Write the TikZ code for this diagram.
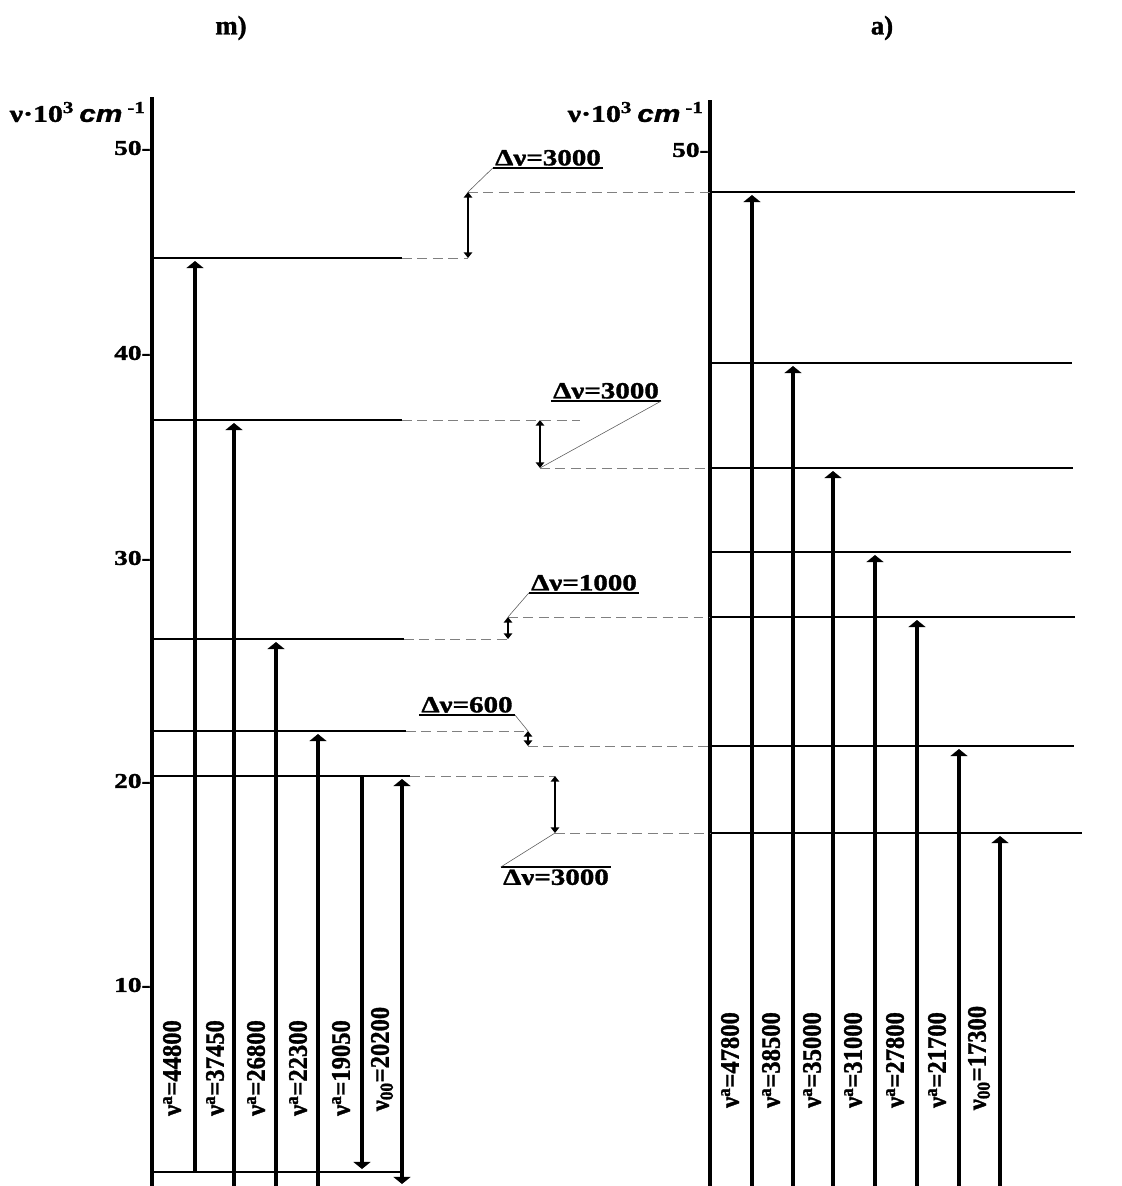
\documentclass[tikz,border=0pt]{standalone}
\usepackage{fontspec}
\setmainfont{Liberation Serif}[BoldFeatures={FakeBold=1.2}]
\setsansfont{Liberation Sans}[BoldItalicFeatures={FakeBold=1.2}]
\usetikzlibrary{arrows.meta}

\newcommand{\unitlbl}{\scalebox{1.25}[1]{ν·10\textsuperscript{3}\,{\sffamily\itshape cm}\,\textsuperscript{-1}}}
\newcommand{\dnu}[1]{\scalebox{1.25}[1]{Δν=#1}}
\newcommand{\tick}[1]{\scalebox{1.3}[1]{#1-}}
\newcommand{\vtext}[1]{\scalebox{0.92}[1]{#1}}

\tikzset{
    axis/.style={line width=3pt},
    lev/.style={line width=1.3pt},
    absn/.style={line width=2.6pt,-{Triangle[width=12pt,length=5pt]}},
    both/.style={line width=2.6pt,{Triangle[width=12pt,length=5pt]}-{Triangle[width=12pt,length=5pt]}},
    gap/.style={line width=1.5pt,{Triangle[width=6pt,length=4pt]}-{Triangle[width=6pt,length=4pt]}},
    guide/.style={gray,line width=0.7pt,dash pattern=on 7pt off 4pt},
    lead/.style={gray!70!black,line width=0.4pt},
    rule/.style={line width=1.2pt},
    vlbl/.style={font=\bfseries\fontsize{19}{19}\selectfont,rotate=90,inner sep=0pt},
    dlbl/.style={font=\bfseries\fontsize{16.5}{16.5}\selectfont,inner sep=1.5pt},
    ticklbl/.style={font=\bfseries\fontsize{15}{15}\selectfont,anchor=east,inner sep=0pt},
    unitlb/.style={font=\bfseries\fontsize{17}{17}\selectfont,anchor=east,inner sep=0pt},
    title/.style={font=\bfseries\fontsize{19}{19}\selectfont}
}

\begin{document}
\begin{tikzpicture}[x=0.025cm,y=-0.025cm]
    \useasboundingbox (0,0) rectangle (1121,1186);

    % titles
    \node[title] (tm) at (231,28) {m)};
    \node[title] (ta) at (882,28) {a)};

    % left scheme
    \draw[axis] (152,97) -- (152,1186);
    \node[unitlb] (ulm) at (146,112) {\unitlbl};
    \node[ticklbl] (t50) at (151,148) {\tick{50}};
    \node[ticklbl] (t40) at (151,353) {\tick{40}};
    \node[ticklbl] (t30) at (151,558) {\tick{30}};
    \node[ticklbl] (t20) at (151,781) {\tick{20}};
    \node[ticklbl] (t10) at (151,985) {\tick{10}};

    \draw[lev] (152,258) -- (402,258);
    \draw[lev] (152,420) -- (402,420);
    \draw[lev] (152,639) -- (404,639);
    \draw[lev] (152,731) -- (406,731);
    \draw[lev] (152,776) -- (410,776);
    \draw[lev] (152,1172) -- (403,1172);

    \draw[absn] (195,1172) -- (195,261);
    \draw[absn] (234,1186) -- (234,423);
    \draw[absn] (276,1186) -- (276,642);
    \draw[absn] (318,1186) -- (318,734);
    \draw[absn] (362,776) -- (362,1169);
    \draw[both] (402,1184) -- (402,779);

    \node[vlbl] (m1) at (172,1068) {\vtext{ν\textsuperscript{a}=44800}};
    \node[vlbl] (m2) at (215,1068) {\vtext{ν\textsuperscript{a}=37450}};
    \node[vlbl] (m3) at (256,1068) {\vtext{ν\textsuperscript{a}=26800}};
    \node[vlbl] (m4) at (298,1068) {\vtext{ν\textsuperscript{a}=22300}};
    \node[vlbl] (m5) at (341,1068) {\vtext{ν\textsuperscript{a}=19050}};
    \node[vlbl] (m6) at (382,1059) {\vtext{ν\textsubscript{00}=20200}};

    % right scheme
    \draw[axis] (710,100) -- (710,1186);
    \node[unitlb] (ula) at (704,112) {\unitlbl};
    \node[ticklbl] (s50) at (709,150) {\tick{50}};

    \draw[lev] (710,192) -- (1075,192);
    \draw[lev] (710,363) -- (1072,363);
    \draw[lev] (710,468) -- (1073,468);
    \draw[lev] (710,552) -- (1071,552);
    \draw[lev] (710,617) -- (1075,617);
    \draw[lev] (710,746) -- (1074,746);
    \draw[lev] (710,833) -- (1082,833);

    \draw[absn] (752,1186) -- (752,195);
    \draw[absn] (793,1186) -- (793,366);
    \draw[absn] (833,1186) -- (833,471);
    \draw[absn] (875,1186) -- (875,555);
    \draw[absn] (917,1186) -- (917,620);
    \draw[absn] (959,1186) -- (959,749);
    \draw[absn] (1000,1186) -- (1000,836);

    \node[vlbl] (a1) at (730,1060) {\vtext{ν\textsuperscript{a}=47800}};
    \node[vlbl] (a2) at (771,1060) {\vtext{ν\textsuperscript{a}=38500}};
    \node[vlbl] (a3) at (812,1060) {\vtext{ν\textsuperscript{a}=35000}};
    \node[vlbl] (a4) at (853,1060) {\vtext{ν\textsuperscript{a}=31000}};
    \node[vlbl] (a5) at (895,1060) {\vtext{ν\textsuperscript{a}=27800}};
    \node[vlbl] (a6) at (937,1060) {\vtext{ν\textsuperscript{a}=21700}};
    \node[vlbl] (a7) at (979,1058) {\vtext{ν\textsubscript{00}=17300}};

    % shifts between the two schemes
    \coordinate (g1t) at (468,192);
    \coordinate (g1b) at (468,258);
    \draw[guide] (g1t) -- (710,192);
    \draw[guide] (402,258) -- (g1b);
    \draw[gap] (g1t) -- (g1b);
    \node[dlbl,anchor=south] (d1) at (548,168) {\dnu{3000}};
    \draw[rule] (d1.south west) -- (d1.south east);
    \draw[lead] (d1.south west) -- (g1t);

    \coordinate (g2t) at (540,420);
    \coordinate (g2b) at (540,468);
    \draw[guide] (402,420) -- (580,420);
    \draw[guide] (g2b) -- (710,468);
    \draw[gap] (g2t) -- (g2b);
    \node[dlbl,anchor=south] (d2) at (606,401) {\dnu{3000}};
    \draw[rule] (d2.south west) -- (d2.south east);
    \draw[lead] (d2.south east) -- (g2b);

    \coordinate (g3t) at (508,617);
    \coordinate (g3b) at (508,639);
    \draw[guide] (g3t) -- (710,617);
    \draw[guide] (404,639) -- (g3b);
    \draw[gap] (g3t) -- (g3b);
    \node[dlbl,anchor=south] (d3) at (584,593) {\dnu{1000}};
    \draw[rule] (d3.south west) -- (d3.south east);
    \draw[lead] (d3.south west) -- (g3t);

    \coordinate (g4t) at (528,731);
    \coordinate (g4b) at (528,746);
    \draw[guide] (406,731) -- (g4t);
    \draw[guide] (g4b) -- (710,746);
    \draw[gap] (g4t) -- (g4b);
    \node[dlbl,anchor=south] (d4) at (467,715) {\dnu{600}};
    \draw[rule] (d4.south west) -- (d4.south east);
    \draw[lead] (d4.south east) -- (g4t);

    \coordinate (g5t) at (555,776);
    \coordinate (g5b) at (555,833);
    \draw[guide] (410,776) -- (g5t);
    \draw[guide] (g5b) -- (710,833);
    \draw[gap] (g5t) -- (g5b);
    \node[dlbl,anchor=north] (d5) at (556,867) {\dnu{3000}};
    \draw[rule] (d5.north west) -- (d5.north east);
    \draw[lead] (d5.north west) -- (g5b);
\end{tikzpicture}
\end{document}
